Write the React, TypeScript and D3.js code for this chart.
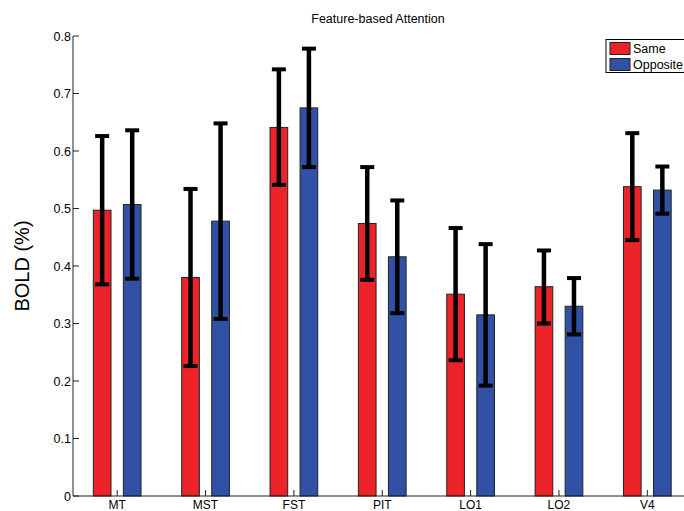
import React from 'react';
import * as d3 from 'd3';

const areas = ['MT', 'MST', 'FST', 'PIT', 'LO1', 'LO2', 'V4'];
const sameMean = [0.497, 0.380, 0.641, 0.474, 0.351, 0.364, 0.538];
const sameHi = [0.626, 0.534, 0.742, 0.572, 0.466, 0.427, 0.631];
const sameLo = [0.368, 0.226, 0.541, 0.376, 0.236, 0.300, 0.445];
const oppMean = [0.507, 0.478, 0.675, 0.416, 0.315, 0.330, 0.532];
const oppHi = [0.636, 0.648, 0.778, 0.514, 0.438, 0.379, 0.573];
const oppLo = [0.378, 0.308, 0.572, 0.318, 0.192, 0.281, 0.491];
const yTicks = [0, 0.1, 0.2, 0.3, 0.4, 0.5, 0.6, 0.7, 0.8];

const RED = '#ec2329';
const BLUE = '#3151a6';
const font = 'Liberation Sans, Arial, Helvetica, sans-serif';

export default function App() {
  const width = 684;
  const height = 511;

  // matlab style axes: categories at 1..7, limits 0.5..7.5 (right side clipped)
  const x = d3.scaleLinear().domain([0.5, 7.5]).range([73, 691.5]);
  const y = d3.scaleLinear().domain([0, 0.8]).range([496, 36]);
  const unit = x(1) - x(0);
  const offset = 0.17;
  const barW = 0.2 * unit;
  const capW = 14;

  const series = [
    { name: 'Same', color: RED, mean: sameMean, hi: sameHi, lo: sameLo, dx: -offset },
    { name: 'Opposite', color: BLUE, mean: oppMean, hi: oppHi, lo: oppLo, dx: offset },
  ];

  return (
    <svg width={width} height={height} style={{ position: 'absolute', left: 0, top: 0, background: '#fff' }} fontFamily={font}>
      <rect width={width} height={height} fill="#fff" />
      <text x={378} y={23} textAnchor="middle" fontSize={12.5}>Feature-based Attention</text>
      <text transform={`translate(29, ${y(0.4)}) rotate(-90)`} textAnchor="middle" fontSize={20}>BOLD (%)</text>

      {series.map(s => (
        <g key={s.name}>
          {areas.map((a, i) => {
            const cx = x(i + 1 + s.dx);
            return (
              <rect key={a} x={cx - barW / 2} y={y(s.mean[i])} width={barW} height={y(0) - y(s.mean[i])}
                fill={s.color} stroke="#222" strokeWidth={1} />
            );
          })}
        </g>
      ))}

      {series.map(s => (
        <g key={s.name + '-err'} stroke="#000">
          {areas.map((a, i) => {
            const cx = x(i + 1 + s.dx);
            return (
              <g key={a}>
                <line x1={cx} x2={cx} y1={y(s.hi[i])} y2={y(s.lo[i])} strokeWidth={4.5} />
                <line x1={cx - capW / 2} x2={cx + capW / 2} y1={y(s.hi[i])} y2={y(s.hi[i])} strokeWidth={4} />
                <line x1={cx - capW / 2} x2={cx + capW / 2} y1={y(s.lo[i])} y2={y(s.lo[i])} strokeWidth={4} />
              </g>
            );
          })}
        </g>
      ))}

      {/* axes */}
      <g stroke="#222" strokeWidth={1}>
        <line x1={x(0.5)} x2={x(0.5)} y1={y(0.8)} y2={y(0)} />
        <line x1={x(0.5)} x2={x(7.5)} y1={y(0)} y2={y(0)} />
        {yTicks.map(t => (
          <line key={t} x1={x(0.5)} x2={x(0.5) + 6} y1={y(t)} y2={y(t)} />
        ))}
        {areas.map((a, i) => (
          <line key={a} x1={x(i + 1)} x2={x(i + 1)} y1={y(0)} y2={y(0) - 6} />
        ))}
      </g>
      {yTicks.map(t => (
        <text key={t} x={x(0.5) - 2} y={y(t) + 4.5} textAnchor="end" fontSize={12.5}>{d3.format('.1~f')(t)}</text>
      ))}
      {areas.map((a, i) => (
        <text key={a} x={x(i + 1)} y={y(0) + 12.5} textAnchor="middle" fontSize={12}>{a}</text>
      ))}

      {/* legend */}
      <g>
        <rect x={606} y={39.5} width={100} height={33} fill="#fff" stroke="#000" strokeWidth={1} />
        {series.map((s, i) => (
          <g key={s.name}>
            <rect x={610} y={42.5 + i * 16} width={20} height={12} fill={s.color} stroke="#222" strokeWidth={1} />
            <text x={633} y={53 + i * 16} fontSize={12.5}>{s.name}</text>
          </g>
        ))}
      </g>
    </svg>
  );
}
